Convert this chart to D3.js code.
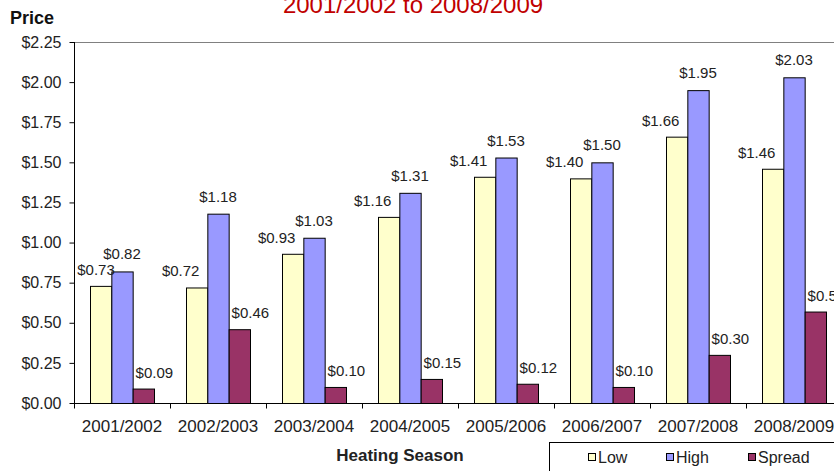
<!DOCTYPE html>
<html>
<head>
<meta charset="utf-8">
<script src="https://cdn.jsdelivr.net/npm/d3@7"></script>
<style>
  body { margin: 0; background: #fff; }
  text { font-family: Arial, "Liberation Sans", sans-serif; }
</style>
</head>
<body>
<script>
const seasons = ["2001/2002", "2002/2003", "2003/2004", "2004/2005", "2005/2006", "2006/2007", "2007/2008", "2008/2009"];
const seriesNames = ["Low", "High", "Spread"];
const lowValues = [0.73, 0.72, 0.93, 1.16, 1.41, 1.40, 1.66, 1.46];
const highValues = [0.82, 1.18, 1.03, 1.31, 1.53, 1.50, 1.95, 2.03];
const spreadValues = [0.09, 0.46, 0.10, 0.15, 0.12, 0.10, 0.30, 0.57];
const yTicks = [0, 0.25, 0.5, 0.75, 1.0, 1.25, 1.5, 1.75, 2.0, 2.25];

const width = 834, height = 471;
const plotLeft = 74, plotTop = 42, plotBottom = 403;
const bandW = 96;
const colors = ["#FFFFCC", "#9999FF", "#993366"];
const labelDx = [-16, 0, 11]; // data labels sit a bit off-centre, like in Excel
const labelDy = [-11, -12, -11];

const values = [lowValues, highValues, spreadValues];
const money = d => "$" + d.toFixed(2);

const svg = d3.select("body").append("svg")
  .attr("width", width)
  .attr("height", height);

const x = d3.scaleBand()
  .domain(seasons)
  .range([plotLeft, plotLeft + bandW * seasons.length])
  .padding(0);

const xInner = d3.scaleBand()
  .domain(seriesNames)
  .range([0, x.bandwidth()])
  .paddingInner(0)
  .paddingOuter(0.75);

const y = d3.scaleLinear()
  .domain([0, 2.25])
  .range([plotBottom, plotTop]);

// title (top of it runs off the picture)
svg.append("text")
  .attr("x", 413)
  .attr("y", 13)
  .attr("text-anchor", "middle")
  .attr("fill", "#C00000")
  .style("font-size", "24px")
  .text("2001/2002 to 2008/2009");

svg.append("text")
  .attr("x", 10)
  .attr("y", 24)
  .style("font-size", "18px")
  .style("font-weight", "bold")
  .attr("fill", "#111")
  .text("Price");

// plot area top border
svg.append("line")
  .attr("x1", plotLeft).attr("x2", width)
  .attr("y1", plotTop + 0.5).attr("y2", plotTop + 0.5)
  .attr("stroke", "#808080");

// bars
const groups = svg.selectAll("g.season")
  .data(seasons)
  .enter()
  .append("g")
  .attr("class", "season")
  .attr("transform", d => "translate(" + x(d) + ",0)");

seriesNames.forEach(function(name, s) {
  groups.append("rect")
    .attr("x", (d, i) => xInner(name) + 0.5)
    .attr("y", (d, i) => y(values[s][i]) + 0.5)
    .attr("width", xInner.bandwidth())
    .attr("height", (d, i) => plotBottom - y(values[s][i]))
    .attr("fill", colors[s])
    .attr("stroke", "#000")
    .attr("stroke-width", 1);
});

seriesNames.forEach(function(name, s) {
  groups.append("text")
    .attr("x", function(d, i) {
      let cx = x(d) + xInner(name) + xInner.bandwidth() / 2 + labelDx[s];
      cx = Math.max(cx, plotLeft + 22); // keep clear of the axis
      return cx - x(d);
    })
    .attr("y", (d, i) => y(values[s][i]) + labelDy[s])
    .attr("text-anchor", "middle")
    .style("font-size", "15px")
    .attr("fill", "#222")
    .text((d, i) => money(values[s][i]));
});

// y axis
const yAxis = d3.axisLeft(y)
  .tickValues(yTicks)
  .tickFormat(money)
  .tickSize(5)
  .tickPadding(8);

const gy = svg.append("g")
  .attr("transform", "translate(" + (plotLeft + 0.5) + ",0)")
  .call(yAxis);
gy.select(".domain").attr("stroke", "#000").attr("d", "M0," + plotTop + "V" + plotBottom);
gy.selectAll("text").style("font-size", "16px").attr("fill", "#222");

// x axis with ticks between categories
const gx = svg.append("g")
  .attr("transform", "translate(0," + (plotBottom + 0.5) + ")");
gx.append("line")
  .attr("x1", plotLeft).attr("x2", width)
  .attr("stroke", "#000");
gx.selectAll("line.tick")
  .data(seasons)
  .enter()
  .append("line")
  .attr("class", "tick")
  .attr("x1", d => x(d) + 0.5).attr("x2", d => x(d) + 0.5)
  .attr("y1", 0).attr("y2", 5)
  .attr("stroke", "#000");
gx.selectAll("text")
  .data(seasons)
  .enter()
  .append("text")
  .attr("x", d => x(d) + x.bandwidth() / 2)
  .attr("y", 28)
  .attr("text-anchor", "middle")
  .style("font-size", "17px")
  .attr("fill", "#222")
  .text(d => d);

svg.append("text")
  .attr("x", 400)
  .attr("y", 461)
  .attr("text-anchor", "middle")
  .style("font-size", "17px")
  .style("font-weight", "bold")
  .attr("fill", "#222")
  .text("Heating Season");

// legend (runs off the bottom right corner)
const legend = svg.append("g").attr("transform", "translate(549,442)");
legend.append("rect")
  .attr("x", 0.5).attr("y", 0.5)
  .attr("width", 320).attr("height", 60)
  .attr("fill", "#fff")
  .attr("stroke", "#000");
const legendX = [39, 117, 199];
seriesNames.forEach(function(name, s) {
  legend.append("rect")
    .attr("x", legendX[s] + 0.5).attr("y", 11.5)
    .attr("width", 7).attr("height", 7)
    .attr("fill", colors[s])
    .attr("stroke", "#000");
  legend.append("text")
    .attr("x", legendX[s] + 10)
    .attr("y", 21)
    .style("font-size", "16px")
    .attr("fill", "#222")
    .text(name);
});
</script>
</body>
</html>
